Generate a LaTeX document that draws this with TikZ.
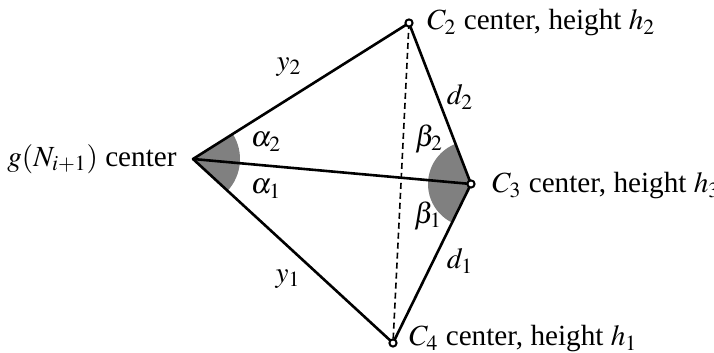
\documentclass[tikz,border=0pt]{standalone}
\usepackage{mathptmx}
\usepackage{fontspec}
\setmainfont{Liberation Serif}
\usetikzlibrary{calc}

\begin{document}
\begin{tikzpicture}[
  x=0.5pt, y=0.5pt,
  font=\fontsize{14.6}{17}\selectfont,
  edge/.style={line width=1.3pt, line join=round},
  chord/.style={line width=0.8pt, dash pattern=on 3pt off 2pt},
  sector/.style={fill=black!50},
  pt/.style={circle, draw, line width=1pt, fill=white, inner sep=0pt, minimum size=3.6pt},
]
\useasboundingbox (0,0) rectangle (714,353);

% ---------- points ----------
\coordinate (G)  at (193,194);
\coordinate (C2) at (409,330);
\coordinate (C3) at (471,169);
\coordinate (C4) at (393,10);

% ---------- angle sectors ----------
\fill[sector] (G) -- +(-42.6:23.5pt) arc[start angle=-42.6, end angle=32.2, radius=23.5pt] -- cycle;
\fill[sector] (C3) -- +(111:21.5pt) arc[start angle=111, end angle=244.2, radius=21.5pt] -- cycle;

% ---------- edges ----------
\draw[chord] (C2) -- (C4);
\draw[edge] (C4) -- (G) -- (C2) -- (C3) -- (C4);
\draw[edge] (G) -- (C3);

% ---------- vertices ----------
\node[pt] (p2) at (C2) {};
\node[pt] (p3) at (C3) {};
\node[pt] (p4) at (C4) {};

% ---------- labels ----------
\node[anchor=east, inner sep=0pt] (lg) at ($(G)+(-16,0)$) {$g(N_{i+1})$ center};
\node[anchor=west, inner sep=0pt] (l2) at ($(C2)+(18,0)$) {$C_2$ center, height $h_2$};
\node[anchor=west, inner sep=0pt] (l3) at ($(C3)+(21,-2)$) {$C_3$ center, height $h_3$};
\node[anchor=west, inner sep=0pt] (l4) at ($(C4)+(16,4)$) {$C_4$ center, height $h_1$};

\node (y2) at (289,286) {$y_2$};
\node (y1) at (288,74) {$y_1$};
\node (d2) at (460,256) {$d_2$};
\node (d1) at (460,92) {$d_1$};
\node (a2) at (266,211) {$\alpha_2$};
\node (a1) at (266,164) {$\alpha_1$};
\node (b2) at (429,214) {$\beta_2$};
\node (b1) at (428,137) {$\beta_1$};

\end{tikzpicture}
\end{document}
